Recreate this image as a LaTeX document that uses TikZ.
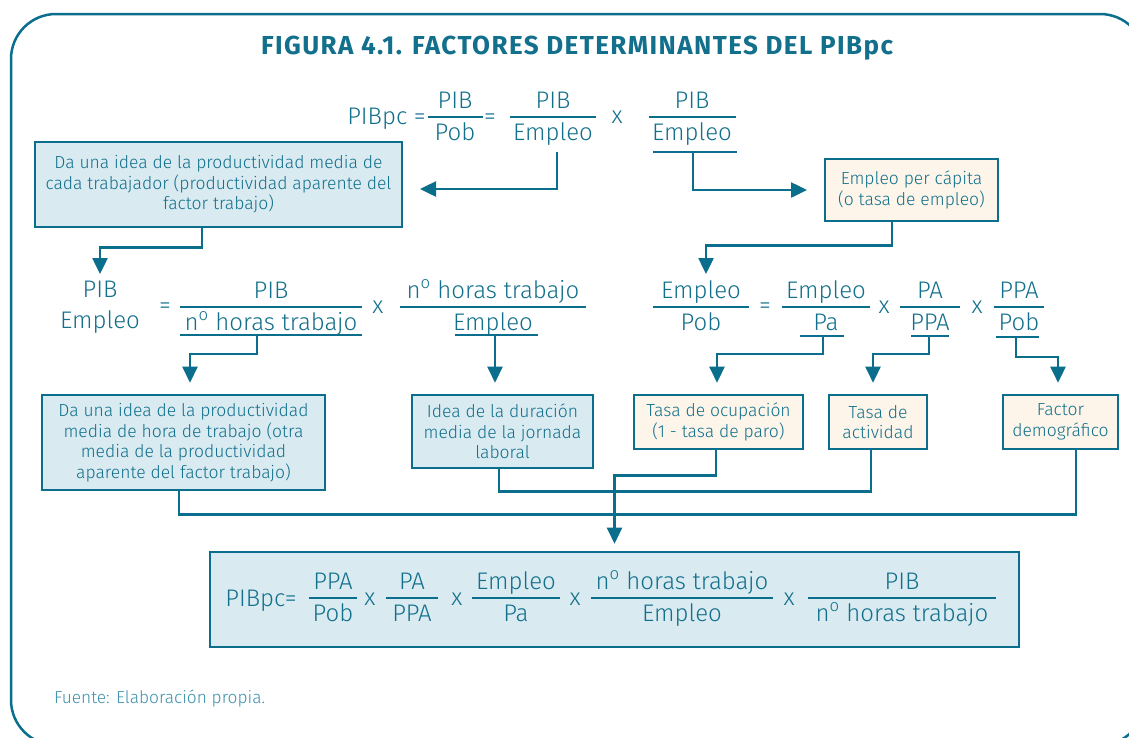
\documentclass[tikz,border=0pt]{standalone}
\usepackage{fontspec}
\setmainfont{Fira Sans Light}[BoldFont=Fira Sans Bold]
\usetikzlibrary{arrows.meta}
\definecolor{tl}{RGB}{10,110,140}
\definecolor{tx}{RGB}{18,112,140}
\definecolor{src}{RGB}{60,145,172}
\definecolor{lb}{RGB}{217,234,241}
\definecolor{cr}{RGB}{253,245,233}
\newcommand\nro{n\textsuperscript{o}}
\newcommand\myfrac[6]{%
  \node[fml] (#1n) at (#2,#3-9) {#5};
  \node[fml] (#1d) at (#2,#3+23) {#6};
  \draw[fbar] (#2-#4,#3) -- (#2+#4,#3);}
\begin{document}
\begin{tikzpicture}[x=1pt,y=-1pt,
  fml/.style={font=\fontsize{24}{28}\selectfont, text=tx, anchor=base, inner sep=0pt},
  fbar/.style={draw=tl, line width=2.2pt},
  conn/.style={draw=tl, line width=2.5pt},
  arr/.style={conn, -{Triangle[width=15pt,length=16pt]}},
  boxbase/.style={draw=tl, line width=2.6pt, text=tx, align=center, inner sep=0pt,
     font=\fontsize{17.5}{20.5}\selectfont},
  bbox/.style={boxbase, fill=lb},
  cbox/.style={boxbase, fill=cr}]
\useasboundingbox (0,0) rectangle (1129,737);
\clip (0,0) rectangle (1129,737);
\fill[white] (0,0) rectangle (1129,737);
\draw[tl, line width=2.5pt, rounded corners=45pt] (11,14) rectangle (1145,745);

\node[font=\fontsize{26}{30}\selectfont\bfseries\addfontfeature{LetterSpace=5.5}, text=tx] (title) at (577,48) {FIGURA 4.1. FACTORES DETERMINANTES DEL PIBpc};

% top formula
\node[fml, anchor=base east] (lhs) at (426,124) {PIBpc =};
\myfrac{fa}{455}{117}{27.5}{PIB}{Pob}
\node[fml] (eqa) at (490,124) {=};
\myfrac{fb}{553}{117}{43}{PIB}{Empleo}
\node[fml] (xa) at (617,123) {x};
\myfrac{fc}{692}{117}{43.5}{PIB}{Empleo}
\draw[fbar] (653,152) -- (737,152);

% boxes
\node[bbox, minimum width=367pt, minimum height=85pt] (b1) at (218.5,184.5)
  {Da una idea de la productividad media de\\cada trabajador (productividad aparente del\\factor trabajo)};
\node[cbox, minimum width=173pt, minimum height=62pt] (ep) at (911.5,190)
  {Empleo per cápita\\(o tasa de empleo)};

\coordinate (ub) at (557,152);
\coordinate (ea) at (420,189);
\coordinate (uc) at (693,152);
\coordinate (eb) at (807,190);
\draw[arr] (ub) |- (ea);
\draw[arr] (uc) |- (eb);

% row 2 left
\node[fml] (pibL) at (100,297) {PIB};
\node[fml] (empL) at (100,328) {Empleo};
\coordinate (pibtop) at (100,274);
\draw[arr] ([xshift=-16.5pt]b1.south) -- ++(0,19) -| (pibtop);
\node[fml] (eqb) at (165,313) {=};
\myfrac{fd}{271}{307}{91}{PIB}{\nro{} horas trabajo}
\draw[fbar] (180,335) -- (362,335);
\node[fml] (xb) at (378,313) {x};
\myfrac{fe}{493}{307}{93}{\nro{} horas trabajo}{Empleo}
\draw[fbar] (455,335) -- (538,335);

% row 2 right
\myfrac{ff}{701}{307}{48}{Empleo}{Pob}
\coordinate (fftop) at (706,274);
\draw[arr] ([xshift=-19.5pt]ep.south) -- ++(0,23) -| (fftop);
\node[fml] (eqc) at (765,313) {=};
\myfrac{fg}{826}{307}{44}{Empleo}{Pa}
\draw[fbar] (800,336) -- (844,336);
\node[fml] (xc) at (884,313) {x};
\myfrac{fh}{930}{307}{30}{PA}{PPA}
\draw[fbar] (911,336) -- (949,336);
\node[fml] (xd) at (977,313) {x};
\myfrac{fi}{1019}{307}{25}{PPA}{Pob}
\draw[fbar] (996,337) -- (1039,337);

% row 3 boxes
\node[bbox, minimum width=283pt, minimum height=95pt] (b3) at (183.5,442.5)
  {Da una idea de la productividad\\media de hora de trabajo (otra\\media de la productividad\\aparente del factor trabajo)};
\node[bbox, minimum width=181pt, minimum height=73pt] (b4) at (502.5,431.5)
  {Idea de la duración\\media de la jornada\\laboral};
\node[cbox, minimum width=169pt, minimum height=54pt] (c1) at (718.5,422)
  {Tasa de ocupación\\(1 - tasa de paro)};
\node[cbox, minimum width=98pt, minimum height=54pt] (c2) at (878,422)
  {Tasa de\\actividad};
\node[cbox, minimum width=115pt, minimum height=54pt] (c3) at (1060.5,422)
  {Factor\\demográfico};

\coordinate (ud) at (257,335);
\coordinate (ue) at (495,335);
\coordinate (ug) at (823,336);
\coordinate (uh) at (929,336);
\coordinate (ui) at (1016,337);
\draw[arr] (ud) -- ++(0,19) -| ([xshift=6.5pt,yshift=11pt]b3.north);
\draw[arr] (ue) -- ([xshift=-7.5pt,yshift=11pt]b4.north);
\draw[arr] (ug) -- ++(0,18) -| ([xshift=-1.5pt,yshift=11pt]c1.north);
\draw[arr] (uh) -- ++(0,18) -| ([xshift=-5pt,yshift=11pt]c2.north);
\draw[arr] (ui) -- ++(0,20) -| ([xshift=-2.5pt,yshift=11pt]c3.north);

% final box
\node[bbox, minimum width=809pt, minimum height=95pt] (fin) at (614.5,599.5) {};
\draw[conn] ([xshift=-4.5pt]b3.south) -- ++(0,23) -| ([xshift=15.5pt]c3.south);
\draw[conn] ([xshift=-3.5pt]b4.south) -- ++(0,22) -| ([xshift=-7pt]c2.south);
\draw[arr] ([xshift=-2.5pt]c1.south) -- ++(0,25) -| ([yshift=7pt]fin.north);

\node[fml] (pf) at (261,606) {PIBpc=};
\myfrac{ga}{333}{598}{24}{PPA}{Pob}
\node[fml] (xe) at (370,605) {x};
\myfrac{gb}{412}{598}{26}{PA}{PPA}
\node[fml] (xf) at (457,605) {x};
\myfrac{gc}{516}{598}{44}{Empleo}{Pa}
\node[fml] (xg) at (575,605) {x};
\myfrac{gd}{682}{598}{91}{\nro{} horas trabajo}{Empleo}
\node[fml] (xh) at (789,605) {x};
\myfrac{ge}{902}{598}{94}{PIB}{\nro{} horas trabajo}

\node[anchor=base west, inner sep=0pt, font=\fontsize{17.3}{20}\selectfont, text=src] (fuente) at (54,703) {Fuente: Elaboración propia.};
\end{tikzpicture}
\end{document}
